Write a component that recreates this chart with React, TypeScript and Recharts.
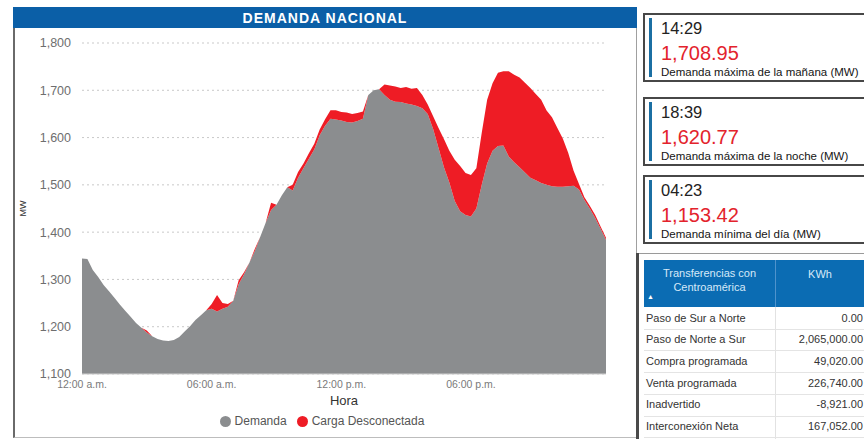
import React from 'react';
import { AreaChart, Area, XAxis, YAxis, CartesianGrid, Legend } from 'recharts';

// minutes since midnight
const times = [
  0, 15, 30, 45, 60, 75, 90, 105, 120, 135, 150, 165, 180, 195, 210, 225, 240, 255, 270, 285,
  300, 315, 330, 345, 360, 375, 390, 405, 420, 435, 450, 465, 480, 495, 510, 525, 540, 555, 570, 585,
  600, 615, 630, 645, 660, 675, 690, 705, 720, 735, 750, 765, 780, 795, 810, 825, 840, 855, 870, 885,
  900, 915, 930, 945, 960, 975, 990, 1005, 1020, 1035, 1050, 1065, 1080, 1095, 1110, 1125, 1140, 1155, 1170, 1185,
  1200, 1215, 1230, 1245, 1260, 1275, 1290, 1305, 1320, 1335, 1350, 1365, 1380, 1395, 1410, 1425, 1440, 1455,
];

const demanda = [
  1344, 1343, 1320, 1305, 1288, 1275, 1261, 1247, 1234, 1221, 1208, 1198, 1188, 1180, 1174, 1171, 1170, 1172, 1178, 1190,
  1201, 1214, 1224, 1235, 1238, 1232, 1238, 1242, 1255, 1290, 1311, 1336, 1360, 1390, 1420, 1447, 1458, 1478, 1495, 1488,
  1515, 1535, 1555, 1575, 1605, 1625, 1640, 1638, 1636, 1633, 1632, 1635, 1640, 1690, 1700, 1702, 1690, 1680, 1676, 1675,
  1672, 1670, 1667, 1662, 1650, 1618, 1578, 1537, 1505, 1466, 1444, 1436, 1433, 1450, 1500, 1545, 1572, 1582, 1583, 1560,
  1548, 1537, 1526, 1515, 1510, 1504, 1500, 1497, 1496, 1496, 1497, 1498, 1490, 1468, 1450, 1430, 1407, 1384,
];

const cargaDesconectada = [
  0, 0, 0, 0, 0, 0, 0, 0, 0, 0, 0, 0, 4, 0, 0, 0, 0, 0, 0, 0,
  0, 0, 0, 0, 10, 35, 12, 6, 0, 8, 4, 0, 5, 0, 0, 15, 0, 0, 0, 12,
  12, 10, 12, 12, 12, 14, 18, 20, 18, 20, 18, 17, 15, 0, 0, 0, 22, 30, 32, 30,
  35, 33, 38, 28, 20, 27, 42, 60, 67, 87, 96, 89, 88, 85, 110, 135, 143, 155, 157, 180,
  185, 190, 190, 190, 182, 176, 157, 146, 124, 102, 71, 32, 12, 6, 6, 6, 5, 4,
];

const yTicks = [1100, 1200, 1300, 1400, 1500, 1600, 1700, 1800];
const xTicks = [0, 360, 720, 1080];
const xTickLabels = ['12:00 a.m.', '06:00 a.m.', '12:00 p.m.', '06:00 p.m.'];
const seriesNames = ['Demanda', 'Carga Desconectada'];

const statTimes = ['14:29', '18:39', '04:23'];
const statValues = ['1,708.95', '1,620.77', '1,153.42'];
const statLabels = [
  'Demanda máxima de la mañana (MW)',
  'Demanda máxima de la noche (MW)',
  'Demanda mínima del día (MW)',
];

const tableRows = [
  'Paso de Sur a Norte',
  'Paso de Norte a Sur',
  'Compra programada',
  'Venta programada',
  'Inadvertido',
  'Interconexión Neta',
];
const tableValues = ['0.00', '2,065,000.00', '49,020.00', '226,740.00', '-8,921.00', '167,052.00'];

const data = times.map((t, i) => ({ t, demanda: demanda[i], carga: cargaDesconectada[i] }));

const FONT = '"Liberation Sans", Arial, Helvetica, sans-serif';
const GRAY = '#8b8d8f';
const RED = '#ee1c25';

function StatBox({ top, time, value, label }: { top: number; time: string; value: string; label: string }) {
  const b = 2;
  return (
    <div
      style={{
        position: 'absolute',
        left: 643,
        top,
        width: 240,
        height: 69,
        boxSizing: 'border-box',
        border: `${b}px solid #474747`,
        background: '#fff',
      }}
    >
      <div style={{ position: 'absolute', left: 6 - b, top: 5 - b, width: 3, height: 59, background: '#1b6fa3' }} />
      <div
        style={{
          position: 'absolute',
          left: 18 - b,
          top: 15 - b - 9,
          fontSize: 16.5,
          lineHeight: '18px',
          color: '#222',
        }}
      >
        {time}
      </div>
      <div
        style={{
          position: 'absolute',
          left: 18 - b,
          top: 40 - b - 11,
          fontSize: 20,
          lineHeight: '22px',
          color: '#e3232c',
        }}
      >
        {value}
      </div>
      <div
        style={{
          position: 'absolute',
          left: 18 - b,
          top: 58.5 - b - 7,
          fontSize: 11.5,
          lineHeight: '14px',
          color: '#151515',
          whiteSpace: 'nowrap',
        }}
      >
        {label}
      </div>
    </div>
  );
}

function TransferTable() {
  const rowTop = 307.5;
  const rowH = 21.7;
  return (
    <>
      <div style={{ position: 'absolute', left: 636, top: 253, width: 240, height: 1, background: '#9a9a9a' }} />
      <div style={{ position: 'absolute', left: 636, top: 253, width: 3, height: 190, background: '#4a4a4a' }} />
      <div style={{ position: 'absolute', left: 644, top: 260, width: 230, height: 47, background: '#0b6cb3' }} />
      <div style={{ position: 'absolute', left: 775, top: 260, width: 1, height: 47, background: '#4f93cc' }} />
      <div
        style={{
          position: 'absolute',
          left: 644,
          top: 266,
          width: 131,
          textAlign: 'center',
          fontSize: 11,
          lineHeight: '14px',
          color: '#d6e9f8',
        }}
      >
        Transferencias con
        <br />
        Centroamérica
      </div>
      <div style={{ position: 'absolute', left: 647, top: 293, fontSize: 7, lineHeight: '8px', color: '#fff' }}>▲</div>
      <div
        style={{
          position: 'absolute',
          left: 776,
          top: 267,
          width: 88,
          textAlign: 'center',
          fontSize: 11,
          lineHeight: '14px',
          color: '#d6e9f8',
        }}
      >
        KWh
      </div>
      <div style={{ position: 'absolute', left: 775, top: 307, width: 1, height: 132, background: '#e2e2e2' }} />
      {tableRows.map((r, i) => (
        <React.Fragment key={r}>
          <div
            style={{
              position: 'absolute',
              left: 646,
              top: rowTop + i * rowH,
              height: rowH,
              lineHeight: `${rowH}px`,
              fontSize: 11,
              color: '#333',
              whiteSpace: 'nowrap',
            }}
          >
            {r}
          </div>
          <div
            style={{
              position: 'absolute',
              left: 776,
              width: 87,
              top: rowTop + i * rowH,
              height: rowH,
              lineHeight: `${rowH}px`,
              fontSize: 11,
              color: '#333',
              textAlign: 'right',
              whiteSpace: 'nowrap',
            }}
          >
            {tableValues[i]}
          </div>
          <div
            style={{
              position: 'absolute',
              left: 644,
              top: rowTop + (i + 1) * rowH - 0.5,
              width: 230,
              height: 1,
              background: '#e4e4e4',
            }}
          />
        </React.Fragment>
      ))}
    </>
  );
}

export default function App() {
  return (
    <div
      style={{
        position: 'absolute',
        left: 0,
        top: 0,
        width: 864,
        height: 439,
        overflow: 'hidden',
        background: '#fff',
        fontFamily: FONT,
      }}
    >
      <div
        style={{
          position: 'absolute',
          left: 13,
          top: 7,
          width: 624,
          height: 431,
          boxSizing: 'border-box',
          borderLeft: '2px solid #6a6a6a',
          borderRight: '1px solid #a0a0a0',
          borderBottom: '1px solid #bdbdbd',
        }}
      />
      <div style={{ position: 'absolute', left: 0, top: 0 }}>
        <AreaChart
          width={640}
          height={439}
          data={data}
          margin={{ top: 43, right: 34, bottom: 33, left: 0 }}
          style={{ fontFamily: FONT }}
        >
          <CartesianGrid horizontal vertical={false} stroke="#c9c9c9" strokeDasharray="2 3" />
          <XAxis
            dataKey="t"
            type="number"
            domain={[0, 1455]}
            ticks={xTicks}
            tickFormatter={(v: number) => xTickLabels[xTicks.indexOf(v)] ?? ''}
            tickLine={false}
            tickSize={0}
            tickMargin={7}
            height={32}
            axisLine={{ stroke: '#d0d0d0' }}
            tick={{ fontSize: 10.5, fill: '#7a7a7a' }}
            label={{ value: 'Hora', position: 'insideBottom', offset: 1, fontSize: 13, fill: '#333' }}
          />
          <YAxis
            type="number"
            domain={[1100, 1800]}
            ticks={yTicks}
            allowDataOverflow
            width={82}
            axisLine={false}
            tickLine={false}
            tickSize={0}
            tickMargin={11}
            tick={{ fontSize: 12.5, fill: '#6e6e6e' }}
            tickFormatter={(v: number) => v.toLocaleString('en-US')}
            label={{
              value: 'MW',
              angle: -90,
              position: 'insideLeft',
              offset: 23,
              fontSize: 9,
              fill: '#333',
              style: { textAnchor: 'middle' },
            }}
          />
          <Legend
            verticalAlign="middle"
            align="center"
            layout="horizontal"
            iconType="circle"
            iconSize={11}
            itemSorter={(item: any) => seriesNames.indexOf(item.value)}
            wrapperStyle={{ top: 414, left: 20, width: 614, fontSize: 12 }}
            formatter={(value: string) => <span style={{ color: '#555' }}>{value}</span>}
          />
          <Area
            type="linear"
            dataKey="demanda"
            name={seriesNames[0]}
            stackId="1"
            stroke="none"
            fill={GRAY}
            fillOpacity={1}
            legendType="circle"
            isAnimationActive={false}
          />
          <Area
            type="linear"
            dataKey="carga"
            name={seriesNames[1]}
            stackId="1"
            stroke="none"
            fill={RED}
            fillOpacity={1}
            legendType="circle"
            isAnimationActive={false}
          />
        </AreaChart>
      </div>
      <div
        style={{
          position: 'absolute',
          left: 13,
          top: 7,
          width: 624,
          height: 21,
          background: '#0b5fa7',
          color: '#fff',
          fontWeight: 'bold',
          fontSize: 14,
          letterSpacing: 1,
          lineHeight: '22px',
          textAlign: 'center',
        }}
      >
        DEMANDA NACIONAL
      </div>
      {statTimes.map((t, i) => (
        <StatBox key={t} top={[13, 97, 175][i]} time={t} value={statValues[i]} label={statLabels[i]} />
      ))}
      <TransferTable />
    </div>
  );
}
